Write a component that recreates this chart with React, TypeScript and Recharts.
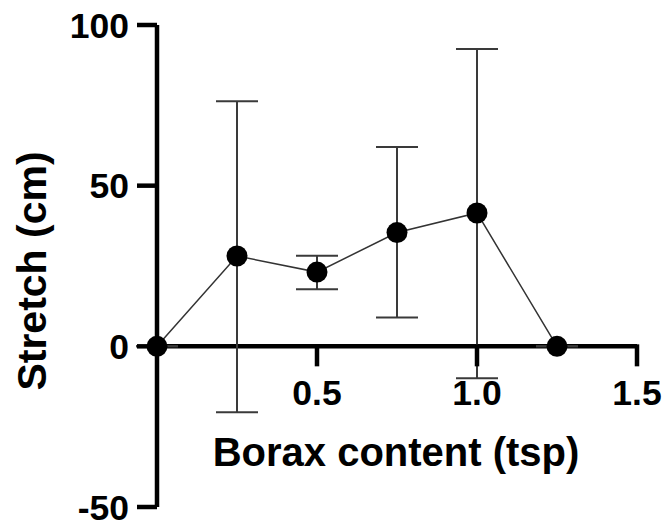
import React from "react";
import {
    ComposedChart,
    Line,
    XAxis,
    YAxis,
    ErrorBar,
    ReferenceLine
} from "recharts";

const boraxTsp = [0, 0.25, 0.5, 0.75, 1.0, 1.25];
const stretchMean = [0, 28.1, 23.1, 35.4, 41.5, 0];
const stretchUpper = [0, 76.3, 28.2, 62.0, 92.5, 0];
const stretchLower = [0, -20.5, 17.8, 9.0, -9.9, 0];
const xTicks = [0.5, 1.0, 1.5];
const yTicks = [-50, 0, 50, 100];

const W = 664;
const H = 521;
const TOP = 25;
const PLOT_BOTTOM = 507;
const Y_MIN = -50;
const Y_MAX = 100;
// distance from the plot bottom up to the zero line
const ZERO_SHIFT = ((PLOT_BOTTOM - TOP) * (0 - Y_MIN)) / (Y_MAX - Y_MIN);

const FONT = "'Liberation Sans', Arial, sans-serif";
const TICK_SIZE = 35.5;

const data = boraxTsp.map((x, i) => ({
    x,
    y: stretchMean[i],
    err: [stretchMean[i] - stretchLower[i], stretchUpper[i] - stretchMean[i]]
}));

// x ticks sit on the y=0 line, not on the plot bottom
function XTick(props: any) {
    const { x, payload } = props;
    const y0 = PLOT_BOTTOM - ZERO_SHIFT;
    return (
        <g>
            <line x1={x} x2={x} y1={y0 - 2} y2={y0 + 20} stroke="#000" strokeWidth={4.5} />
            <text
                x={x}
                y={y0 + 59}
                textAnchor="middle"
                fontFamily={FONT}
                fontWeight="bold"
                fontSize={TICK_SIZE}
                fill="#000"
            >
                {Number(payload.value).toFixed(1)}
            </text>
        </g>
    );
}

function XTitle() {
    return (
        <text
            x={396}
            y={466}
            textAnchor="middle"
            fontFamily={FONT}
            fontWeight="bold"
            fontSize={40}
            fill="#000"
        >
            Borax content (tsp)
        </text>
    );
}

function YTitle() {
    return (
        <text
            x={0}
            y={0}
            transform="translate(46, 271) rotate(-90)"
            textAnchor="middle"
            fontFamily={FONT}
            fontWeight="bold"
            fontSize={41}
            fill="#000"
        >
            Stretch (cm)
        </text>
    );
}

export default function App() {
    return (
        <div style={{ position: "absolute", left: 0, top: 0, background: "#fff" }}>
            <ComposedChart
                width={W}
                height={H}
                data={data}
                margin={{ top: TOP, right: 27, bottom: 0, left: 0 }}
            >
                <XAxis
                    type="number"
                    dataKey="x"
                    domain={[0, 1.5]}
                    ticks={xTicks}
                    axisLine={false}
                    tickLine={false}
                    height={H - PLOT_BOTTOM}
                    tick={<XTick />}
                    interval={0}
                    label={{ content: () => <XTitle /> }}
                />
                <YAxis
                    type="number"
                    domain={[Y_MIN, Y_MAX]}
                    ticks={yTicks}
                    width={157}
                    interval={0}
                    axisLine={{ stroke: "#000", strokeWidth: 4.5 }}
                    tickLine={{ stroke: "#000", strokeWidth: 4.5 }}
                    tickSize={20}
                    tickMargin={8}
                    tick={{ fill: "#000", fontSize: TICK_SIZE, fontWeight: "bold", fontFamily: FONT }}
                    label={{ content: () => <YTitle /> }}
                />
                <ReferenceLine y={0} stroke="#000" strokeWidth={4.5} />
                <Line
                    dataKey="y"
                    type="linear"
                    stroke="#333"
                    strokeWidth={1.5}
                    dot={{ r: 10.5, fill: "#000", stroke: "#000", strokeWidth: 0 }}
                    activeDot={false}
                    isAnimationActive={false}
                >
                    <ErrorBar dataKey="err" width={21} stroke="#3a3a3a" strokeWidth={2} direction="y" />
                </Line>
            </ComposedChart>
        </div>
    );
}
